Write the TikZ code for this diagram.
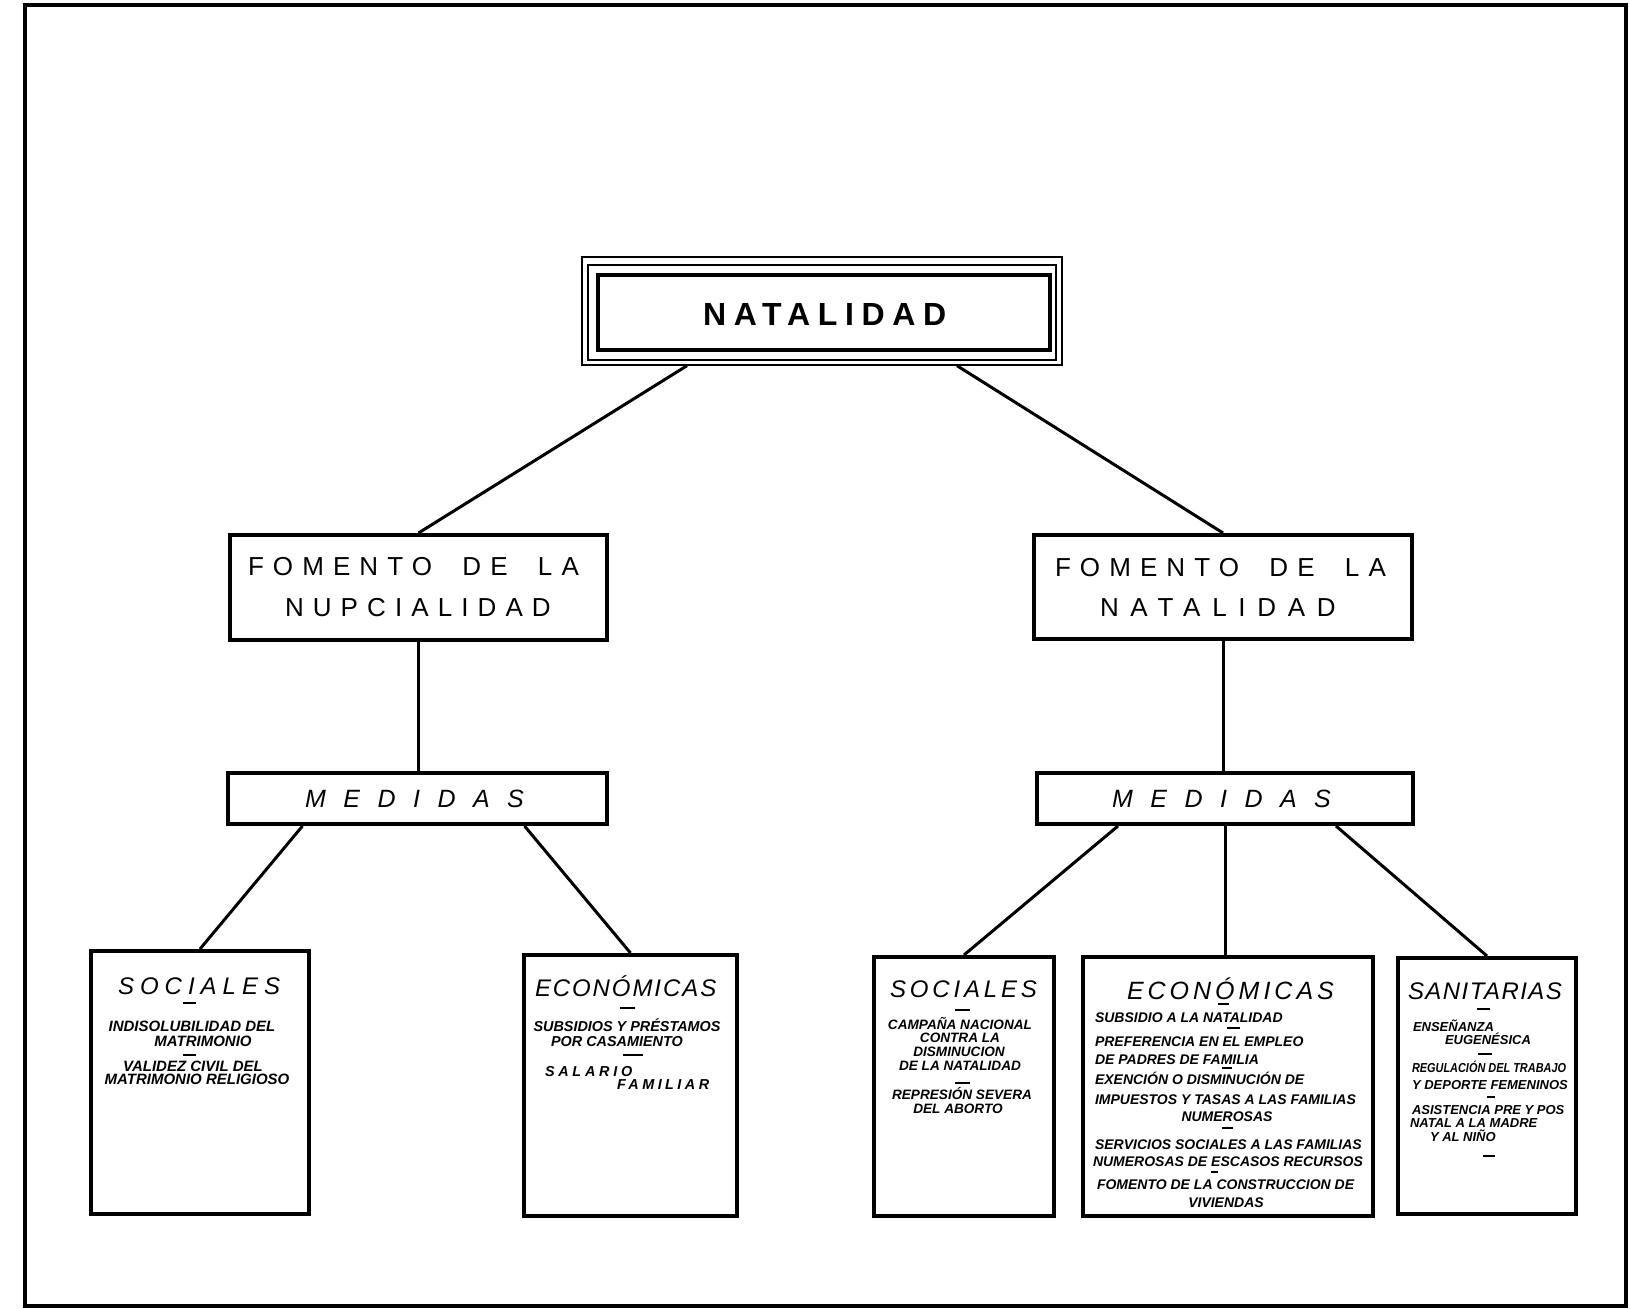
\documentclass[tikz,border=0pt]{standalone}
\usepackage{fontspec}
\setmainfont{Liberation Sans}
\usepackage{graphicx}
\usetikzlibrary{fit,calc}
\begin{document}
\begin{tikzpicture}[x=0.5pt,y=-0.5pt,
  box/.style={draw, rectangle, line width=2pt, inner sep=0pt},
  thinbox/.style={draw, rectangle, line width=0.7pt, inner sep=0pt},
  conn/.style={line width=1.5pt},
  sep/.style={line width=1.2pt},
  txt/.style={inner sep=0pt, outer sep=0pt},
  tnat/.style={txt, anchor=base west, font=\bfseries\fontsize{16}{16}\selectfont\addfontfeatures{LetterSpace=24}},
  tfom/.style={txt, anchor=base west, font=\fontsize{13}{13}\selectfont\addfontfeatures{LetterSpace=#1}},
  tmed/.style={txt, anchor=base west, font=\itshape\fontsize{12.5}{12.5}\selectfont\addfontfeatures{LetterSpace=70}},
  ttl/.style={txt, anchor=base west, font=\itshape\fontsize{12}{12}\selectfont\addfontfeatures{LetterSpace=#1}},
  sm/.style={txt, anchor=base, font=\bfseries\itshape\fontsize{#1}{#1}\selectfont},
  sml/.style={txt, anchor=base west, font=\bfseries\itshape\fontsize{#1}{#1}\selectfont},
]
\useasboundingbox (0,0) rectangle (1630,1309);
\fill[white] (0,0) rectangle (1630,1309);
\draw[line width=1.6pt] (25,5) rectangle (1626,1306);

% ---------- boxes ----------
\node[thinbox, fit={(582,257) (1062,365)}] (nat) {};
\node[thinbox, fit={(588,265) (1056,360)}] (natm) {};
\node[box, fit={(598,275) (1050,350)}] (nati) {};

\node[box, fit={(230,535) (607,640)}] (fomL) {};
\node[box, fit={(1034,535) (1412,639)}] (fomR) {};
\node[box, fit={(228,773) (607,824)}] (medL) {};
\node[box, fit={(1037,773) (1413,824)}] (medR) {};

\node[box, fit={(91,951) (309,1214)}] (socL) {};
\node[box, fit={(524,955) (737,1216)}] (ecoL) {};
\node[box, fit={(874,957) (1054,1216)}] (socR) {};
\node[box, fit={(1083,957) (1373,1216)}] (ecoR) {};
\node[box, fit={(1398,958) (1576,1214)}] (san) {};

% ---------- connectors ----------
\draw[conn] ([xshift=-67.5pt]nat.south) -- (fomL.north);
\draw[conn] ([xshift=67.5pt]nat.south) -- (fomR.north);
\draw[conn] (fomL.south) -- (fomL.south |- medL.north);
\draw[conn] (fomR.south) -- (fomR.south |- medR.north);
\draw[conn] ([xshift=-57.5pt]medL.south) -- (socL.north);
\draw[conn] ([xshift=53.5pt]medL.south) -- (ecoL.north);
\draw[conn] ([xshift=-53.5pt]medR.south) -- (socR.north);
\draw[conn] (medR.south) -- (medR.south |- ecoR.north);
\draw[conn] ([xshift=55.5pt]medR.south) -- (san.north);

% ---------- upper texts ----------
\node[tnat] (tNat) at (703,326) {NATALIDAD};
\node[tfom=35] (tFomL1) at (248,576) {FOMENTO\hspace{7pt} DE\hspace{7pt} LA};
\node[tfom=35] (tFomL2) at (285,617) {NUPCIALIDAD};
\node[tfom=35] (tFomR1) at (1055,577) {FOMENTO\hspace{7pt} DE\hspace{7pt} LA};
\node[tfom=45] (tFomR2) at (1100,617) {NATALIDAD};
\node[tmed] (tMedL) at (305,808) {MEDIDAS};
\node[tmed] (tMedR) at (1112,808) {MEDIDAS};

% ---------- Sociales (nupcialidad) ----------
\node[ttl=25] (tSocL) at (118,995) {SOCIALES};
\draw[sep] (183,1003) -- (196,1003);
\node[sm=7.5] (sl1) at (192,1032) {INDISOLUBILIDAD DEL};
\node[sm=7.5] (sl2) at (203,1047) {MATRIMONIO};
\draw[sep] (183,1055) -- (196,1055);
\node[sm=7.5] (sl3) at (193,1072) {VALIDEZ CIVIL DEL};
\node[sm=7.5] (sl4) at (197,1085) {MATRIMONIO RELIGIOSO};

% ---------- Economicas (nupcialidad) ----------
\node[ttl=8] (tEcoL) at (535,997) {ECONÓMICAS};
\draw[sep] (620,1008) -- (635,1008);
\node[sm=7.2] (el1) at (627,1032) {SUBSIDIOS Y PRÉSTAMOS};
\node[sm=7.2] (el2) at (617,1047) {POR CASAMIENTO};
\draw[sep] (623,1055) -- (643,1055);
\node[sml=7.2, font=\bfseries\itshape\fontsize{7.2}{7.2}\selectfont\addfontfeatures{LetterSpace=26}] (el3) at (545,1077) {SALARIO};
\node[sml=7.2, font=\bfseries\itshape\fontsize{7.2}{7.2}\selectfont\addfontfeatures{LetterSpace=24}] (el4) at (617,1090) {FAMILIAR};

% ---------- Sociales (natalidad) ----------
\node[ttl=16] (tSocR) at (890,998) {SOCIALES};
\draw[sep] (955,1010) -- (970,1010);
\node[sm=6.8] (sr1) at (960,1030) {CAMPAÑA NACIONAL};
\node[sm=6.8] (sr2) at (960,1043) {CONTRA LA};
\node[sm=6.8] (sr3) at (959,1057) {DISMINUCION};
\node[sm=6.8] (sr4) at (960,1071) {DE LA NATALIDAD};
\draw[sep] (955,1083) -- (970,1083);
\node[sm=6.8] (sr5) at (962,1100) {REPRESIÓN SEVERA};
\node[sm=6.8] (sr6) at (958,1114) {DEL ABORTO};

% ---------- Economicas (natalidad) ----------
\node[ttl=16, font=\itshape\fontsize{12.5}{12.5}\selectfont\addfontfeatures{LetterSpace=16}] (tEcoR) at (1127,1000) {ECONÓMICAS};
\draw[sep] (1218,1004) -- (1229,1004);
\node[sml=7] (er1) at (1095,1023) {SUBSIDIO A LA NATALIDAD};
\draw[sep] (1227,1028) -- (1240,1028);
\node[sml=7] (er2) at (1095,1047) {PREFERENCIA EN EL EMPLEO};
\node[sml=7] (er3) at (1095,1065) {DE PADRES DE FAMILIA};
\draw[sep] (1222,1068) -- (1232,1068);
\node[sml=7] (er4) at (1095,1085) {EXENCIÓN O DISMINUCIÓN DE};
\node[sml=7] (er5) at (1095,1105) {IMPUESTOS Y TASAS A LAS FAMILIAS};
\node[sm=7] (er6) at (1227,1122) {NUMEROSAS};
\draw[sep] (1222,1128) -- (1233,1128);
\node[sml=7] (er7) at (1095,1150) {SERVICIOS SOCIALES A LAS FAMILIAS};
\node[sml=7] (er8) at (1093,1167) {NUMEROSAS DE ESCASOS RECURSOS};
\draw[sep] (1211,1172) -- (1218,1172);
\node[sml=7] (er9) at (1097,1190) {FOMENTO DE LA CONSTRUCCION DE};
\node[sm=7] (er10) at (1226,1208) {VIVIENDAS};

% ---------- Sanitarias ----------
\node[ttl=6] (tSan) at (1408,1000) {SANITARIAS};
\draw[sep] (1477,1009) -- (1490,1009);
\node[sml=6.5] (sa1) at (1413,1032) {ENSEÑANZA};
\node[sml=6.5] (sa2) at (1445,1045) {EUGENÉSICA};
\draw[sep] (1478,1054) -- (1492,1054);
\node[sml=6.5] (sa3) at (1412,1073) {\scalebox{0.84}[1]{REGULACIÓN DEL TRABAJO}};
\node[sml=6.5] (sa4) at (1412,1090) {Y DEPORTE FEMENINOS};
\draw[sep] (1487,1097) -- (1495,1097);
\node[sml=6.5] (sa5) at (1412,1115) {ASISTENCIA PRE Y POS};
\node[sml=6.5] (sa6) at (1410,1128) {NATAL A LA MADRE};
\node[sml=6.5] (sa7) at (1430,1142) {Y AL NIÑO};
\draw[sep] (1483,1156) -- (1495,1156);
\end{tikzpicture}
\end{document}
